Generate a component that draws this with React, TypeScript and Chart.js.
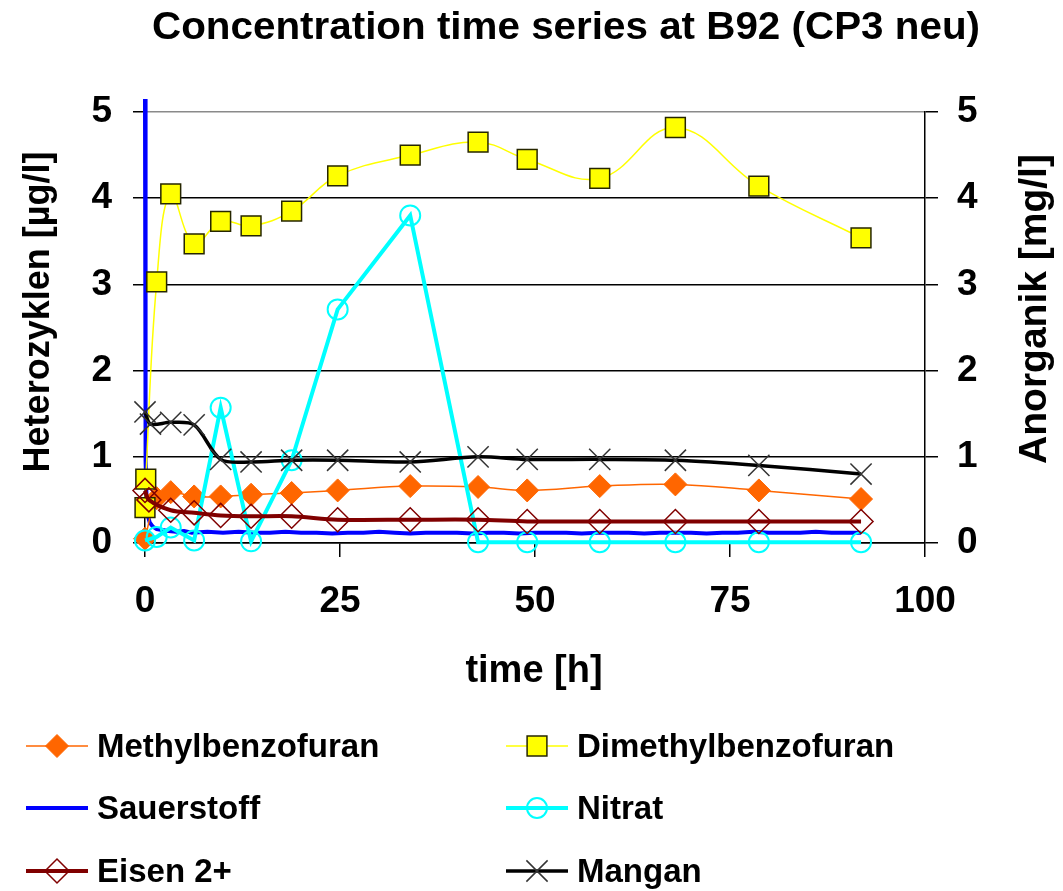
import React, { useEffect, useRef } from 'react';
import { Chart, registerables } from 'chart.js';
import { drawPoint } from 'chart.js/helpers';

Chart.register(...registerables);

const FONT = '"Liberation Sans", Arial, Helvetica, sans-serif';

// ---- texts ----
const TITLE = 'Concentration time series at B92 (CP3 neu)';
const X_TITLE = 'time [h]';
const Y_LEFT_TITLE = 'Heterozyklen [µg/l]';
const Y_RIGHT_TITLE = 'Anorganik [mg/l]';

// ---- axis ranges / ticks ----
const X_MIN = 0;
const X_MAX = 100;
const X_STEP = 25;
const Y_MIN = 0;
const Y_MAX = 5;
const Y_STEP = 1;

// ---- series data (time in h, values) ----
const methylTime = [0, 1.5, 3.3, 6.3, 9.7, 13.6, 18.8, 24.7, 34, 42.7, 49, 58.3, 68, 78.7, 91.8];
const methylValues = [0.05, 0.52, 0.59, 0.54, 0.54, 0.56, 0.58, 0.61, 0.66, 0.65, 0.61, 0.66, 0.68, 0.61, 0.51];

const dimethylTime = [0, 0.1, 1.5, 3.3, 6.3, 9.7, 13.6, 18.8, 24.7, 34, 42.7, 49, 58.3, 68, 78.7, 91.8];
const dimethylValues = [0.41, 0.74, 3.03, 4.05, 3.47, 3.73, 3.68, 3.85, 4.26, 4.5, 4.65, 4.45, 4.23, 4.82, 4.14, 3.54];

const sauerstoffTime = [
  0, 0.05, 0.1, 0.2, 0.35, 0.6, 1.0, 1.5, 2.2, 3.0,
  4, 5, 6, 8, 10, 12, 14, 16, 18, 20,
  22, 24, 26, 28, 30, 32, 34, 36, 38, 40,
  42, 44, 46, 48, 50, 52, 54, 56, 58, 60,
  62, 64, 66, 68, 70, 72, 74, 76, 78, 80,
  82, 84, 86, 88, 90, 91.8,
];
const sauerstoffValues = [
  5.15, 2.6, 0.95, 0.5, 0.32, 0.24, 0.19, 0.16, 0.15, 0.14,
  0.13, 0.14, 0.12, 0.13, 0.12, 0.13, 0.12, 0.12, 0.13, 0.12,
  0.12, 0.11, 0.12, 0.12, 0.13, 0.12, 0.11, 0.12, 0.12, 0.12,
  0.11, 0.12, 0.12, 0.11, 0.12, 0.12, 0.12, 0.11, 0.12, 0.12,
  0.12, 0.11, 0.12, 0.12, 0.12, 0.11, 0.12, 0.12, 0.13, 0.12,
  0.12, 0.12, 0.13, 0.12, 0.12, 0.12,
];

const nitratTime = [0, 1.5, 3.3, 6.3, 9.7, 13.6, 18.8, 24.7, 34, 42.7, 49, 58.3, 68, 78.7, 91.8];
const nitratValues = [0.03, 0.07, 0.18, 0.03, 1.57, 0.02, 0.96, 2.71, 3.8, 0.01, 0.01, 0.01, 0.01, 0.01, 0.01];

const eisenTime = [0, 0.5, 3.3, 6.3, 9.7, 13.6, 18.8, 24.7, 34, 42.7, 49, 58.3, 68, 78.7, 91.8];
const eisenValues = [0.61, 0.5, 0.38, 0.35, 0.32, 0.31, 0.31, 0.27, 0.27, 0.27, 0.25, 0.25, 0.25, 0.25, 0.25];

const manganTime = [0, 0.7, 3.3, 6.3, 9.7, 13.6, 18.8, 24.7, 34, 42.7, 49, 58.3, 68, 78.7, 91.8];
const manganValues = [1.52, 1.38, 1.4, 1.37, 0.97, 0.94, 0.96, 0.96, 0.94, 1.0, 0.97, 0.97, 0.96, 0.9, 0.8];

const toPoints = (t: number[], v: number[]) => t.map((x, i) => ({ x, y: v[i] }));

type SeriesStyle = {
  label: string;
  time: number[];
  values: number[];
  axis: 'y' | 'y1';
  line: string;
  lineWidth: number;
  tension: number;
  pointStyle: any;
  radius: number;
  pointFill: string;
  pointBorder: string;
  pointBorderWidth: number;
  order: number;
  clip?: boolean;
};

const SERIES: SeriesStyle[] = [
  { label: 'Methylbenzofuran', time: methylTime, values: methylValues, axis: 'y', line: '#FF6600', lineWidth: 1.5, tension: 0.4, pointStyle: 'rectRot', radius: 11.5, pointFill: '#FF6600', pointBorder: '#FF6600', pointBorderWidth: 1, order: 4 },
  { label: 'Dimethylbenzofuran', time: dimethylTime, values: dimethylValues, axis: 'y', line: '#FFFF00', lineWidth: 1.5, tension: 0.4, pointStyle: 'rect', radius: 14, pointFill: '#FFFF00', pointBorder: '#262600', pointBorderWidth: 1.5, order: 3 },
  { label: 'Sauerstoff', time: sauerstoffTime, values: sauerstoffValues, axis: 'y1', line: '#0000FF', lineWidth: 4, tension: 0, pointStyle: false, radius: 0, pointFill: '#0000FF', pointBorder: '#0000FF', pointBorderWidth: 0, order: 5, clip: false },
  { label: 'Nitrat', time: nitratTime, values: nitratValues, axis: 'y1', line: '#00FFFF', lineWidth: 4, tension: 0, pointStyle: 'circle', radius: 10, pointFill: 'rgba(255,255,255,0)', pointBorder: '#00FFFF', pointBorderWidth: 2, order: 2 },
  { label: 'Eisen 2+', time: eisenTime, values: eisenValues, axis: 'y1', line: '#800000', lineWidth: 4, tension: 0.3, pointStyle: 'rectRot', radius: 12, pointFill: 'rgba(255,255,255,0)', pointBorder: '#800000', pointBorderWidth: 1.5, order: 1 },
  { label: 'Mangan', time: manganTime, values: manganValues, axis: 'y1', line: '#000000', lineWidth: 3.5, tension: 0.3, pointStyle: 'crossRot', radius: 15, pointFill: '#333333', pointBorder: '#333333', pointBorderWidth: 1.5, order: 0 },
];

// legend layout: [column, row]
const LEGEND_POS: [number, number][] = [[0, 0], [1, 0], [0, 1], [1, 1], [0, 2], [1, 2]];

function fitText(ctx: CanvasRenderingContext2D, text: string, targetWidth: number) {
  const w = ctx.measureText(text).width;
  const s = targetWidth / w;
  ctx.scale(s, 1);
}

const textPlugin = {
  id: 'customTexts',
  afterDraw(chart: any) {
    const ctx = chart.ctx as CanvasRenderingContext2D;
    ctx.save();
    ctx.fillStyle = '#000';
    ctx.textAlign = 'center';
    ctx.textBaseline = 'middle';
    // title
    ctx.save();
    ctx.font = `bold 38px ${FONT}`;
    ctx.translate(566, 29);
    fitText(ctx, TITLE, 828);
    ctx.fillText(TITLE, 0, 0);
    ctx.restore();
    // x title
    ctx.font = `bold 38px ${FONT}`;
    ctx.fillText(X_TITLE, 534, 672);
    // y titles
    ctx.save();
    ctx.font = `bold 36px ${FONT}`;
    ctx.translate(39, 312);
    ctx.rotate(-Math.PI / 2);
    ctx.fillText(Y_LEFT_TITLE, 0, 0);
    ctx.restore();
    ctx.save();
    ctx.font = `bold 39px ${FONT}`;
    ctx.translate(1035, 309);
    ctx.rotate(-Math.PI / 2);
    ctx.fillText(Y_RIGHT_TITLE, 0, 0);
    ctx.restore();

    // legend
    const colX = [26, 506];
    const rowY = [746, 808, 871];
    const sampleW = 62;
    SERIES.forEach((s, i) => {
      const [c, r] = LEGEND_POS[i];
      const x0 = colX[c];
      const y = rowY[r];
      ctx.save();
      ctx.strokeStyle = s.line;
      ctx.lineWidth = s.lineWidth;
      ctx.beginPath();
      ctx.moveTo(x0, y);
      ctx.lineTo(x0 + sampleW, y);
      ctx.stroke();
      if (s.pointStyle) {
        ctx.fillStyle = s.pointFill;
        ctx.strokeStyle = s.pointBorder;
        ctx.lineWidth = s.pointBorderWidth;
        drawPoint(ctx, { pointStyle: s.pointStyle, radius: s.radius, rotation: 0, borderWidth: s.pointBorderWidth } as any, x0 + sampleW / 2, y);
      }
      ctx.restore();
      ctx.font = `bold 33px ${FONT}`;
      ctx.textAlign = 'left';
      ctx.textBaseline = 'alphabetic';
      ctx.fillStyle = '#000';
      ctx.fillText(s.label, x0 + sampleW + 9, y + 11);
    });
    ctx.restore();
  },
};

export default function App() {
  const canvasRef = useRef<HTMLCanvasElement | null>(null);

  useEffect(() => {
    const canvas = canvasRef.current;
    if (!canvas) return;
    const tickFont = { family: FONT, size: 37, weight: 'bold' as const };
    const chart = new Chart(canvas, {
      type: 'line',
      data: {
        datasets: SERIES.map((s) => ({
          label: s.label,
          data: toPoints(s.time, s.values),
          yAxisID: s.axis,
          borderColor: s.line,
          borderWidth: s.lineWidth,
          backgroundColor: s.pointFill,
          tension: s.tension,
          pointStyle: s.pointStyle,
          pointRadius: s.radius,
          pointBackgroundColor: s.pointFill,
          pointBorderColor: s.pointBorder,
          pointBorderWidth: s.pointBorderWidth,
          order: s.order,
          fill: false,
          clip: s.clip === false ? false : 30,
        })) as any,
      },
      options: {
        responsive: false,
        animation: false,
        devicePixelRatio: 1,
        layout: { padding: { top: 112, left: 0, right: 0, bottom: 0 } },
        plugins: {
          legend: { display: false },
          title: { display: false },
          tooltip: { enabled: false },
        },
        scales: {
          x: {
            type: 'linear',
            min: X_MIN,
            max: X_MAX,
            afterFit: (scale: any) => { scale.height = 891 - 543; },
            ticks: { stepSize: X_STEP, color: '#000', font: tickFont, padding: 23, maxRotation: 0 },
            grid: { drawOnChartArea: false, drawTicks: true, tickLength: 14, color: '#000', lineWidth: 1.5 },
            border: { display: true, color: '#000', width: 1.5 },
          },
          y: {
            type: 'linear',
            position: 'left',
            min: Y_MIN,
            max: Y_MAX,
            afterFit: (scale: any) => { scale.width = 145; },
            ticks: { stepSize: Y_STEP, color: '#000', font: tickFont, padding: 21 },
            grid: {
              drawOnChartArea: true,
              drawTicks: true,
              tickLength: 12,
              color: (c: any) => (c.tick && c.tick.value === Y_MAX ? '#8a8a8a' : '#000'),
              tickColor: '#000',
              lineWidth: 1.5,
            },
            border: { display: true, color: '#000', width: 1.5 },
          },
          y1: {
            type: 'linear',
            position: 'right',
            min: Y_MIN,
            max: Y_MAX,
            afterFit: (scale: any) => { scale.width = 1063 - 925; },
            ticks: { stepSize: Y_STEP, color: '#000', font: tickFont, padding: 19 },
            grid: { drawOnChartArea: false, drawTicks: true, tickLength: 13, color: '#000', lineWidth: 1.5 },
            border: { display: true, color: '#000', width: 1.5 },
          },
        },
      } as any,
      plugins: [textPlugin],
    });
    return () => chart.destroy();
  }, []);

  return (
    <div style={{ position: 'fixed', left: 0, top: 0, width: 1063, height: 891, background: '#fff' }}>
      <canvas ref={canvasRef} width={1063} height={891} style={{ display: 'block' }} />
    </div>
  );
}
